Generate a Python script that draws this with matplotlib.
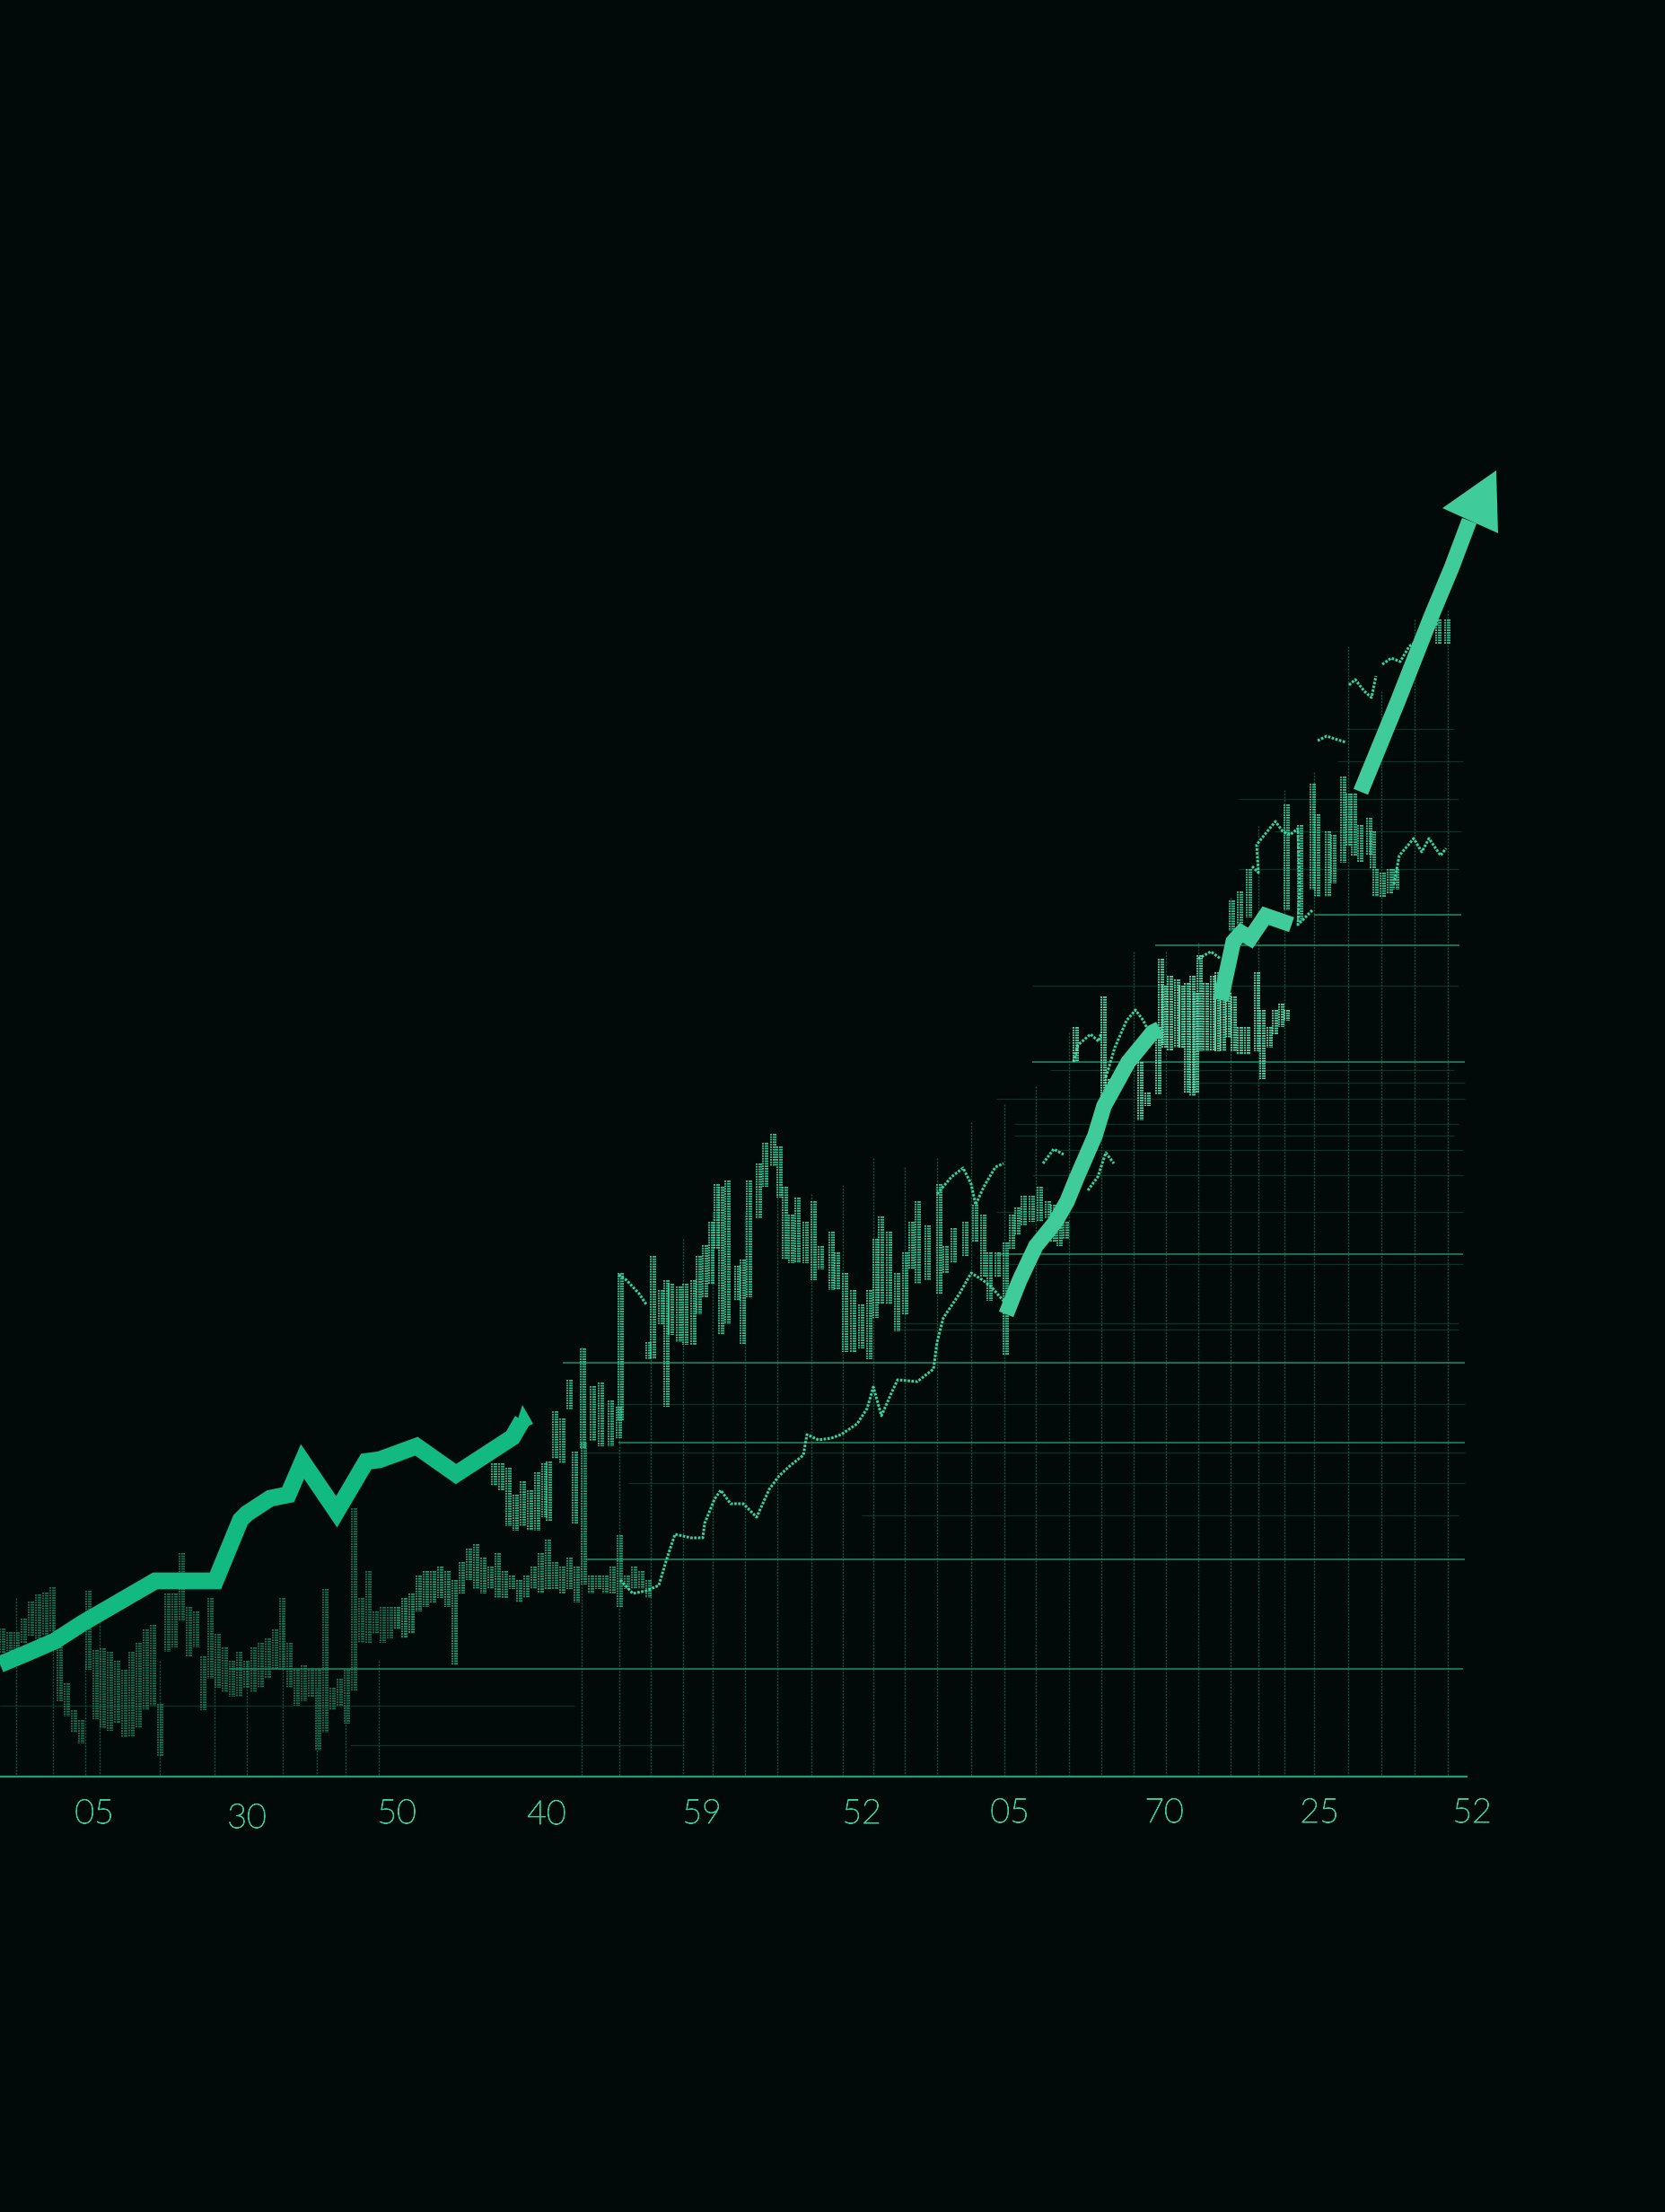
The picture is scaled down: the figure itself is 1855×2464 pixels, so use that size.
#!/usr/bin/env python
import numpy as np
import matplotlib
matplotlib.use("Agg")
import matplotlib.pyplot as plt
import matplotlib.patheffects as pe

# all values, x/y on the image's own scale (y grows downwards)
tick_labels = ['05', '30', '50', '40', '59', '52', '05', '70', '25', '52']
tick_x = [105, 275, 442, 609, 782, 960, 1125, 1297, 1470, 1640]
tick_y = [2031, 2036, 2031, 2032, 2031, 2031, 2030, 2030, 2030, 2030]

bold1_x = [0, 31, 61, 92, 173, 240, 268, 275, 301, 321, 337, 375, 408, 423, 464, 508, 571, 582]
bold1_y = [1854, 1841, 1828, 1808, 1761, 1761, 1693, 1686, 1669, 1665, 1628, 1684, 1628, 1626, 1611, 1642, 1601, 1582]
tip1_x = [582, 594, 572]
tip1_y = [1565, 1586, 1596]

bold2a_x = [1121, 1136, 1154, 1176, 1189, 1200, 1220, 1230, 1257, 1284, 1292]
bold2a_y = [1464, 1426, 1388, 1361, 1338, 1311, 1265, 1232, 1183, 1150, 1146]
bold2b_x = [1360, 1374, 1383, 1393, 1410, 1439]
bold2b_y = [1114, 1049, 1039, 1045, 1020, 1030]

arrow_x = [1516, 1557, 1594, 1617, 1637]
arrow_y = [882, 782, 688, 633, 580]
head_x = [1667, 1607, 1669]
head_y = [524, 566, 594]

base_y = 1979
base_end = 1635
hbright_y = [1859, 1737, 1607, 1518, 1397, 1183, 1053, 1019]
hbright_x0 = [255, 653, 689, 627, 1110, 1150, 1287, 1464]
hbright_x1 = [1630, 1632, 1632, 1632, 1630, 1632, 1626, 1628]
hfaint_y = [1944, 1900, 1688, 1652, 1618, 1564, 1481, 1474, 1408, 1350, 1309, 1281,
            1265, 1252, 1224, 1206, 1192, 1098, 968, 926, 890, 848, 812]
hfaint_x0 = [390, 0, 960, 700, 650, 660, 1000, 1000, 1120, 1110, 1150, 1170,
             1130, 1130, 1110, 1320, 1170, 1150, 1380, 1420, 1380, 1490, 1500]
hfaint_x1 = [760, 640, 1625, 1632, 1632, 1632, 1625, 1625, 1630, 1630, 1630, 1630,
             1620, 1625, 1632, 1632, 1620, 1625, 1625, 1628, 1625, 1630, 1620]

vgrid_x = [18, 59, 95, 111, 178, 239, 275, 315, 353, 385, 422, 648, 690, 725, 761, 794,
           830, 866, 904, 939, 973, 1008, 1044, 1082, 1119, 1154, 1191, 1227, 1263, 1299,
           1335, 1371, 1402, 1431, 1464, 1502, 1539, 1576, 1613]
vgrid_top = [1780, 1800, 1850, 1800, 1850, 1850, 1850, 1800, 1880, 1900, 1850, 1500, 1420,
             1400, 1380, 1350, 1350, 1320, 1330, 1320, 1290, 1300, 1290, 1250, 1230, 1210,
             1150, 1110, 1060, 1060, 1050, 1000, 920, 880, 860, 720, 770, 690, 680]

# dim cloud, bottom left
a_x = list(range(0, 440, 8))
a_top = [1814, 1818, 1818, 1803, 1784, 1776, 1774, 1768, 1815, 1875, 1905, 1916, 1772, 1838,
         1836, 1840, 1850, 1860, 1840, 1830, 1815, 1810, 1898, 1775, 1775, 1730, 1790, 1795,
         1845, 1780, 1820, 1835, 1850, 1840, 1850, 1835, 1830, 1825, 1815, 1780, 1830, 1860,
         1855, 1860, 1860, 1770, 1880, 1870, 1860, 1680, 1780, 1750, 1795, 1790, 1790]
a_bot = [1841, 1839, 1837, 1830, 1822, 1826, 1822, 1818, 1895, 1912, 1930, 1942, 1860, 1915,
         1925, 1928, 1920, 1935, 1935, 1925, 1905, 1900, 1956, 1840, 1835, 1806, 1845, 1835,
         1905, 1870, 1880, 1885, 1890, 1890, 1880, 1885, 1880, 1870, 1860, 1860, 1880, 1900,
         1895, 1890, 1950, 1930, 1905, 1900, 1920, 1883, 1830, 1830, 1820, 1830, 1825]

# low band running right from the dim cloud
b_x = list(range(440, 728, 8))
b_top = [1790, 1780, 1775, 1755, 1750, 1750, 1745, 1750, 1760, 1740, 1725, 1720, 1735, 1745, 1730, 1750,
         1755, 1760, 1755, 1745, 1730, 1715, 1740, 1745, 1735, 1745, 1607, 1755, 1755, 1755, 1745, 1710,
         1755, 1745, 1750, 1760]
b_bot = [1815, 1825, 1820, 1795, 1790, 1785, 1780, 1790, 1855, 1775, 1760, 1770, 1775, 1770, 1780, 1780,
         1770, 1785, 1780, 1770, 1775, 1770, 1770, 1775, 1770, 1785, 1765, 1775, 1770, 1775, 1775, 1790,
         1770, 1770, 1770, 1780]

# cluster under the first arrow tip
c_x = [548, 556, 564, 572, 580, 588, 596, 604, 609, 616, 624, 632, 638, 647, 658, 667, 678, 687]
c_top = [1630, 1630, 1635, 1665, 1650, 1660, 1640, 1630, 1628, 1572, 1580, 1537, 1617, 1502, 1544, 1540, 1560, 1567]
c_bot = [1655, 1660, 1700, 1705, 1700, 1705, 1705, 1690, 1694, 1625, 1630, 1570, 1697, 1613, 1605, 1611, 1611, 1602]

# large upper cloud
d_x = [689, 720, 725, 734, 740, 745, 754, 761, 770, 776, 783, 790, 796, 801, 808, 819, 825, 832,
       843, 850, 859, 866, 872, 879, 886, 895, 904, 912, 924, 930, 939, 948, 957, 966, 973, 979,
       988, 997, 1006, 1013, 1020, 1031, 1044, 1051, 1060, 1073, 1084, 1093, 1100, 1109, 1118]
d_top = [1418, 1495, 1399, 1437, 1426, 1430, 1433, 1430, 1426, 1399, 1387, 1361, 1319, 1322, 1315, 1410, 1403, 1315,
         1296, 1273, 1263, 1277, 1322, 1353, 1334, 1361, 1338, 1388, 1372, 1395, 1418, 1437, 1453, 1437, 1380, 1355,
         1372, 1418, 1395, 1361, 1338, 1365, 1319, 1388, 1368, 1361, 1342, 1353, 1395, 1395, 1384]
d_bot = [1583, 1514, 1514, 1475, 1567, 1487, 1495, 1498, 1498, 1464, 1445, 1430, 1391, 1487, 1475, 1449, 1497, 1445,
         1357, 1322, 1299, 1334, 1403, 1407, 1407, 1407, 1426, 1414, 1437, 1437, 1506, 1506, 1502, 1514, 1468, 1453,
         1453, 1483, 1464, 1414, 1430, 1426, 1441, 1418, 1407, 1399, 1384, 1422, 1449, 1422, 1510]

f_x = [1125, 1131, 1138, 1147, 1156, 1165, 1171, 1178, 1185]
f_top = [1353, 1345, 1332, 1332, 1322, 1338, 1342, 1353, 1361]
f_bot = [1391, 1376, 1365, 1361, 1361, 1357, 1384, 1388, 1380]

# bright block around the second line
g_x = [1196, 1227, 1232, 1268, 1276, 1288, 1291, 1295, 1301, 1309, 1314, 1320, 1326, 1330, 1334,
       1341, 1349, 1354, 1360, 1366, 1372, 1379, 1387, 1398, 1404, 1412, 1418, 1425, 1431]
g_top = [1144, 1110, 1202, 1183, 1217, 1144, 1068, 1098, 1087, 1091, 1098, 1095, 1087, 1106, 1064,
         1095, 1087, 1083, 1079, 1106, 1110, 1144, 1144, 1083, 1125, 1144, 1125, 1118, 1125]
g_bot = [1183, 1221, 1217, 1248, 1232, 1219, 1164, 1167, 1171, 1167, 1167, 1217, 1221, 1217, 1171,
         1171, 1171, 1171, 1171, 1156, 1171, 1175, 1175, 1171, 1202, 1167, 1152, 1144, 1137]

h_x = [1370, 1379, 1389, 1431, 1446, 1460, 1465, 1477, 1483, 1494, 1500, 1506, 1513, 1523, 1527,
       1530, 1538, 1546, 1553, 1600, 1610]
h_top = [1003, 993, 968, 896, 919, 873, 907, 926, 930, 865, 884, 884, 919, 911, 926,
         968, 972, 968, 968, 690, 690]
h_bot = [1037, 1030, 1022, 1014, 1026, 991, 999, 999, 984, 961, 942, 953, 961, 953, 968,
         999, 999, 995, 991, 717, 717]

# thin wiggly traces
e_x = [691, 705, 720, 734, 743, 747, 752, 770, 783, 785, 796, 803, 814, 828, 843, 857, 868, 881, 895, 899,
       912, 926, 937, 955, 966, 973, 982, 993, 1000, 1022, 1040, 1044, 1051, 1069, 1082, 1095, 1104, 1118]
e_y = [1760, 1775, 1772, 1766, 1736, 1724, 1709, 1713, 1713, 1697, 1670, 1660, 1675, 1675, 1690, 1659, 1644, 1632, 1621, 1598,
       1604, 1602, 1598, 1586, 1569, 1545, 1577, 1552, 1537, 1539, 1525, 1495, 1468, 1441, 1418, 1426, 1433, 1449]
i_x = [689, 698, 712, 720]
i_y = [1420, 1426, 1441, 1453]
j_x = [1044, 1060, 1073, 1082, 1087, 1096, 1109, 1118]
j_y = [1330, 1311, 1301, 1319, 1342, 1322, 1300, 1296]
k_x = [1162, 1174, 1185]
k_y = [1296, 1280, 1286]
l_x = [1212, 1223, 1232, 1241]
l_y = [1326, 1311, 1284, 1296]
m_x = [1196, 1201, 1215, 1224, 1227]
m_y = [1183, 1164, 1152, 1160, 1150]
n_x = [1232, 1242, 1255, 1265, 1274, 1280]
n_y = [1200, 1167, 1137, 1125, 1137, 1150]
o_x = [1335, 1349, 1360]
o_y = [1068, 1060, 1068]
p_x = [1395, 1402, 1400, 1412, 1421, 1429, 1437, 1446, 1448, 1446, 1462]
p_y = [965, 972, 941, 926, 915, 926, 930, 923, 990, 1030, 1014]
q_x = [1553, 1559, 1575, 1584, 1592, 1605, 1611]
q_y = [985, 953, 934, 949, 934, 953, 945]
r_x = [1468, 1478, 1487, 1500]
r_y = [825, 820, 823, 827]
s_x = [1503, 1510, 1520, 1528, 1533]
s_y = [763, 757, 770, 777, 753]
t_x = [1540, 1550, 1560, 1570, 1580, 1587, 1600, 1607]
t_y = [740, 733, 737, 720, 713, 690, 697, 660]

BG = '#010909'
C_BOLD1 = '#12b981'
C_BOLD2 = '#3fcb9a'
C_NOISE = '#35d09c'
C_TICK = '#35d09c'
DOT = (0, (1.0, 0.55))


def cloud(ax, xs, tops, bots, color, alpha=1.0, lw=1.3):
    # each column is three dotted bars, which gives the grid texture
    xs = np.array(xs)
    for off in (0, 2.7, 5.4):
        ax.vlines(xs + off, tops, bots, colors=color, alpha=alpha, lw=lw,
                  linestyles=[DOT], zorder=4)


def wiggle(ax, xs, ys, color=C_NOISE, alpha=1.0):
    ax.plot(xs, ys, color=color, alpha=alpha, lw=2.2, ls=(0, (0.9, 0.5)), zorder=4)


fig = plt.figure(figsize=(18.56, 24.64), dpi=100, facecolor=BG)
ax = fig.add_axes([0, 0, 1, 1], facecolor=BG)
ax.set_xlim(0, 1856)
ax.set_ylim(2464, 0)
ax.axis('off')

# grid
ax.vlines(vgrid_x, vgrid_top, base_y, colors='#1d8766', alpha=0.6, lw=1.0,
          linestyles=[(0, (1.5, 1))], zorder=1)
ax.hlines(hfaint_y, hfaint_x0, hfaint_x1, colors='#0f4a39', alpha=0.65, lw=0.9, zorder=1)
ax.hlines(hbright_y, hbright_x0, hbright_x1, colors='#1f8f6b', alpha=0.9, lw=1.2, zorder=2)
ax.hlines(base_y, 0, base_end, colors='#1f9d75', lw=1.6, zorder=2)

# noise
cloud(ax, a_x, a_top, a_bot, '#1c8a68', alpha=0.85)
cloud(ax, b_x, b_top, b_bot, '#27b588', alpha=0.9)
cloud(ax, c_x, c_top, c_bot, '#30c794')
cloud(ax, d_x, d_top, d_bot, C_NOISE)
cloud(ax, f_x, f_top, f_bot, C_NOISE)
cloud(ax, h_x, h_top, h_bot, C_NOISE)

for xs, ys in [(e_x, e_y), (i_x, i_y), (j_x, j_y), (k_x, k_y), (l_x, l_y), (m_x, m_y),
               (n_x, n_y), (o_x, o_y), (p_x, p_y), (q_x, q_y), (r_x, r_y), (s_x, s_y), (t_x, t_y)]:
    wiggle(ax, xs, ys)

# bold lines
ax.plot(bold1_x, bold1_y, color=C_BOLD1, lw=13.5, solid_joinstyle='miter',
        solid_capstyle='butt', zorder=5)
ax.fill(tip1_x, tip1_y, color=C_BOLD1, lw=0, zorder=5)
for xs, ys in [(bold2a_x, bold2a_y), (bold2b_x, bold2b_y)]:
    ax.plot(xs, ys, color=C_BOLD2, lw=12.5, solid_joinstyle='miter',
            solid_capstyle='butt', zorder=5)
ax.plot(arrow_x, arrow_y, color=C_BOLD2, lw=12.5, solid_joinstyle='miter',
        solid_capstyle='butt', zorder=5)
ax.fill(head_x, head_y, color=C_BOLD2, lw=0, zorder=5)

# the bright block sits on top of the line
cloud(ax, g_x, g_top, g_bot, '#5be6b5', alpha=1.0)

for lab, x, y in zip(tick_labels, tick_x, tick_y):
    ax.text(x, y, lab, color=C_TICK, fontsize=27, family='Lato', weight='light',
            ha='center', va='baseline', zorder=6,
            path_effects=[pe.withStroke(linewidth=0.7, foreground=C_TICK)])

fig.savefig('out.png', dpi=100, facecolor=BG)
